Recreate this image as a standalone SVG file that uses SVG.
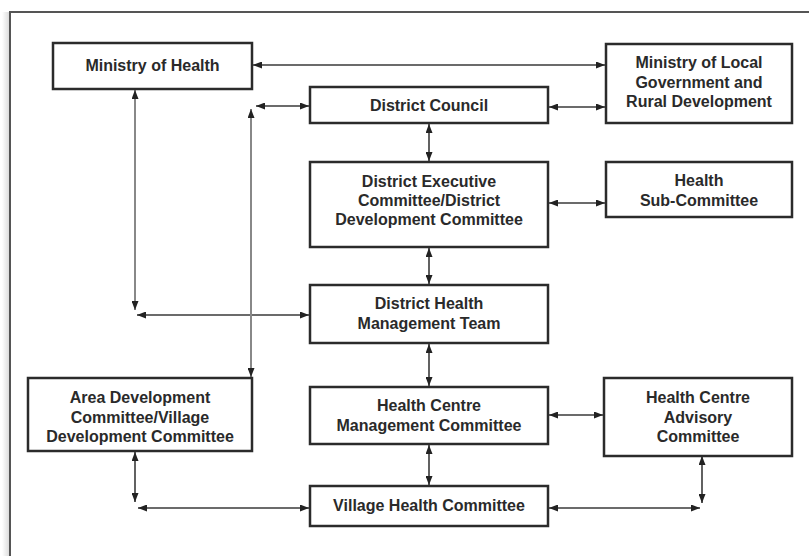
<svg xmlns="http://www.w3.org/2000/svg" width="809" height="556" viewBox="0 0 809 556">
<defs>
<linearGradient id="shadow" x1="0" y1="0" x2="1" y2="0">
<stop offset="0" stop-color="#ffffff"/>
<stop offset="1" stop-color="#d8d8d8"/>
</linearGradient>
<marker id="ah" viewBox="0 0 9 7" refX="9" refY="3.5" markerWidth="9" markerHeight="7" markerUnits="userSpaceOnUse" orient="auto-start-reverse">
<path d="M0,0 L9,3.5 L0,7 z" fill="#222"/>
</marker>
</defs>
<style>
.box{fill:#fff;stroke:#2b2b2b;stroke-width:2.5}
.t{font-family:"Liberation Sans",Arial,sans-serif;font-weight:bold;font-size:16px;fill:#2a2a2a;text-anchor:middle}
.c{fill:none;stroke:#3a3a3a;stroke-width:1.6;marker-start:url(#ah);marker-end:url(#ah)}
.g{stroke:#888;stroke-width:2}
</style>
<rect x="0" y="0" width="809" height="556" fill="#fff"/>
<rect x="2" y="12" width="8" height="560" fill="url(#shadow)"/>
<rect x="10" y="12" width="820" height="600" fill="none" stroke="#555" stroke-width="2"/>

<g id="connectors">
<path class="c" d="M253,65 H605"/>
<path class="c g" d="M135,90 V310"/>
<path class="c" d="M137,315 H309"/>
<path class="c" d="M256,106 H309"/>
<path class="c g" d="M251,109 V377"/>
<path class="c" d="M549,107 H605"/>
<path class="c" d="M429,124 V161"/>
<path class="c" d="M549,203 H605"/>
<path class="c" d="M429,248 V284"/>
<path class="c" d="M429,344 V386"/>
<path class="c" d="M549,415 H603"/>
<path class="c" d="M429,445 V485"/>
<path class="c" d="M135,452 V502"/>
<path class="c" d="M138,508 H309"/>
<path class="c" d="M549,508 H700"/>
<path class="c" d="M702,456 V503"/>
</g>

<g id="ministry-of-health">
<rect class="box" x="53" y="43" width="199" height="46"/>
<text class="t" x="152.5" y="71">Ministry of Health</text>
</g>
<g id="ministry-local-government">
<rect class="box" x="606" y="44" width="186" height="79"/>
<text class="t" x="699" y="68">Ministry of Local</text>
<text class="t" x="699" y="87.5">Government and</text>
<text class="t" x="699" y="107">Rural Development</text>
</g>
<g id="district-council">
<rect class="box" x="310" y="87" width="238" height="36"/>
<text class="t" x="429" y="111">District Council</text>
</g>
<g id="district-executive-committee">
<rect class="box" x="310" y="162" width="238" height="85"/>
<text class="t" x="429" y="187">District Executive</text>
<text class="t" x="429" y="206">Committee/District</text>
<text class="t" x="429" y="225">Development Committee</text>
</g>
<g id="health-sub-committee">
<rect class="box" x="606" y="162" width="186" height="55"/>
<text class="t" x="699" y="186">Health</text>
<text class="t" x="699" y="206">Sub-Committee</text>
</g>
<g id="district-health-management-team">
<rect class="box" x="310" y="285" width="238" height="58"/>
<text class="t" x="429" y="309">District Health</text>
<text class="t" x="429" y="329">Management Team</text>
</g>
<g id="area-development-committee">
<rect class="box" x="28" y="378" width="224" height="73"/>
<text class="t" x="140" y="403">Area Development</text>
<text class="t" x="140" y="422.5">Committee/Village</text>
<text class="t" x="140" y="442">Development Committee</text>
</g>
<g id="health-centre-management-committee">
<rect class="box" x="310" y="387" width="238" height="57"/>
<text class="t" x="429" y="411">Health Centre</text>
<text class="t" x="429" y="431">Management Committee</text>
</g>
<g id="health-centre-advisory-committee">
<rect class="box" x="604" y="378" width="188" height="78"/>
<text class="t" x="698" y="403">Health Centre</text>
<text class="t" x="698" y="422.5">Advisory</text>
<text class="t" x="698" y="442">Committee</text>
</g>
<g id="village-health-committee">
<rect class="box" x="310" y="486" width="238" height="40"/>
<text class="t" x="429" y="511">Village Health Committee</text>
</g>
</svg>
